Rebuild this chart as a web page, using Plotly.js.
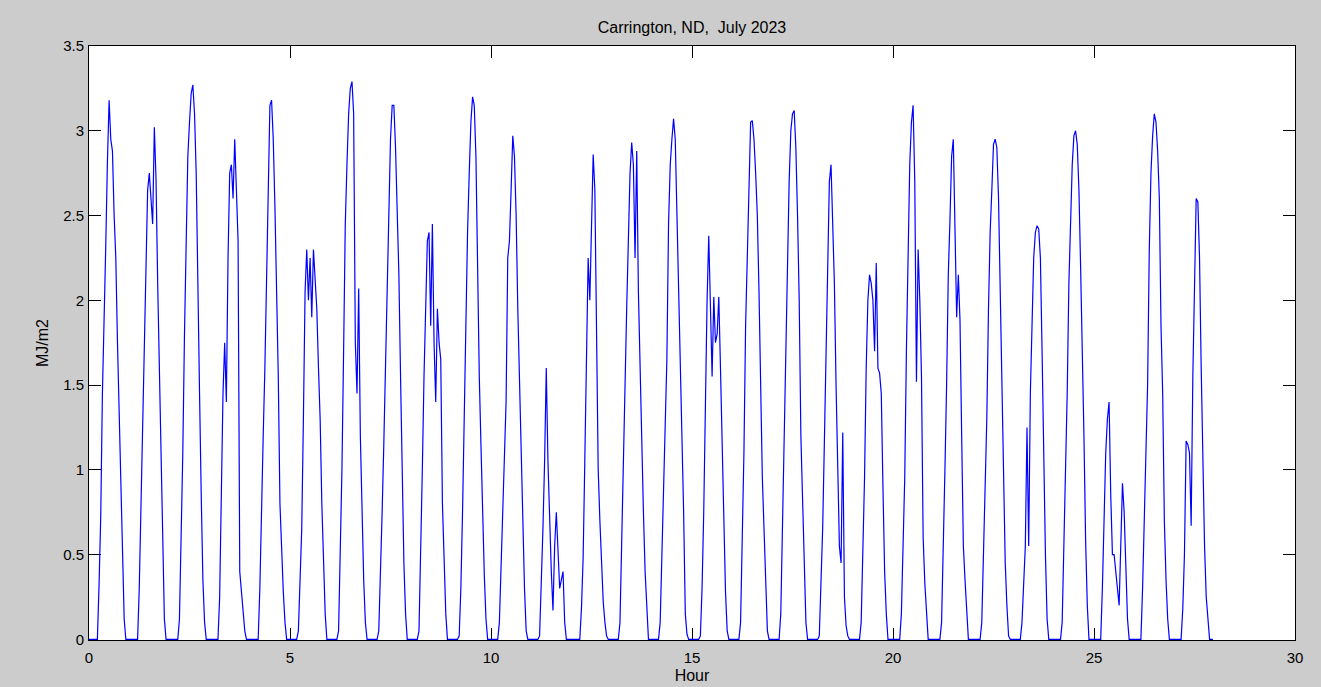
<!DOCTYPE html>
<html>
<head>
<meta charset="utf-8">
<script src="https://cdn.plot.ly/plotly-3.0.1.min.js"></script>
<style>
  html, body { margin: 0; padding: 0; background: #cccccc; }
  #chart { width: 1321px; height: 687px; }
</style>
</head>
<body>
<div id="chart"></div>
<script>
// Hourly solar radiation (MJ/m2), Carrington ND, July 2023 — one array per day, hours 0..23
const jul01 = [0,0,0,0,0,0,0.32,0.72,1.45,2.0,2.32,2.82,3.18,2.95,2.88,2.5,2.25,1.75,1.3,0.97,0.55,0.12,0,0];
const jul02 = [0,0,0,0,0,0,0.3,0.75,1.2,1.6,2.15,2.65,2.75,2.6,2.45,3.02,2.72,2.1,1.6,1.15,0.6,0.12,0,0];
const jul03 = [0,0,0,0,0,0,0.12,0.55,1.1,1.8,2.45,2.85,3.05,3.22,3.27,3.1,2.75,2.2,1.45,0.85,0.35,0.1,0,0];
const jul04 = [0,0,0,0,0,0,0.25,0.85,1.45,1.75,1.4,2.25,2.75,2.8,2.6,2.95,2.7,2.35,0.4,0.28,0.15,0.05,0,0];
const jul05 = [0,0,0,0,0,0,0.3,0.85,1.2,1.6,2.12,2.72,3.15,3.18,2.95,2.55,2.1,1.55,0.8,0.48,0.28,0.1,0,0];
const jul06 = [0,0,0,0,0,0.05,0.4,0.65,1.3,2.05,2.3,2.0,2.25,1.9,2.3,2.15,1.95,1.6,1.3,0.8,0.45,0.15,0,0];
const jul07 = [0,0,0,0,0,0.05,0.45,1.0,1.7,2.45,2.8,3.1,3.25,3.29,3.1,1.75,1.45,2.07,1.2,0.7,0.35,0.1,0,0];
const jul08 = [0,0,0,0,0,0.05,0.35,0.75,1.15,1.6,2.1,2.65,2.95,3.15,3.15,2.9,2.5,2.15,1.55,0.85,0.45,0.15,0,0];
const jul09 = [0,0,0,0,0,0.05,0.45,1.0,1.55,2.05,2.35,2.4,1.85,2.45,1.75,1.4,1.95,1.75,1.65,0.8,0.42,0.15,0,0];
const jul10 = [0,0,0,0,0,0.02,0.3,0.75,1.3,1.9,2.4,2.75,3.05,3.2,3.15,2.85,2.1,1.55,1.15,0.7,0.38,0.12,0,0];
const jul11 = [0,0,0,0,0,0.1,0.45,0.75,1.05,1.4,2.25,2.35,2.65,2.97,2.85,2.5,1.95,1.5,1.1,0.55,0.3,0.05,0,0];
const jul12 = [0,0,0,0,0,0.02,0.28,0.65,1.05,1.6,1.05,0.65,0.4,0.17,0.55,0.75,0.55,0.3,0.35,0.4,0.1,0,0,0];
const jul13 = [0,0,0,0,0,0,0.18,0.48,1.05,1.7,2.25,2.0,2.4,2.86,2.65,1.6,1.0,0.7,0.4,0.22,0.1,0.02,0,0];
const jul14 = [0,0,0,0,0,0.1,0.6,1.05,1.4,1.95,2.35,2.75,2.93,2.8,2.25,2.88,2.05,1.6,1.05,0.75,0.4,0.15,0,0];
const jul15 = [0,0,0,0,0,0.1,0.5,0.85,1.2,1.65,2.45,2.8,2.95,3.07,2.95,2.5,2.1,1.75,1.3,0.75,0.15,0.03,0,0];
const jul16 = [0,0,0,0,0,0.02,0.3,0.75,1.4,2.0,2.38,1.9,1.55,2.02,1.75,1.8,2.02,1.6,1.1,0.6,0.28,0.05,0,0];
const jul17 = [0,0,0,0,0,0.1,0.6,1.1,1.85,2.3,2.8,3.05,3.06,2.95,2.75,2.5,2.05,1.5,0.95,0.65,0.35,0.05,0,0];
const jul18 = [0,0,0,0,0,0.15,0.65,1.15,1.75,2.25,2.7,3.0,3.1,3.12,2.9,2.5,2.0,1.2,0.8,0.45,0.1,0,0,0];
const jul19 = [0,0,0,0,0.02,0.35,0.65,1.15,1.75,2.35,2.7,2.8,2.5,2.1,1.5,1.0,0.55,0.45,1.22,0.25,0.08,0.02,0,0];
const jul20 = [0,0,0,0,0,0.1,0.45,0.95,1.6,2.0,2.15,2.1,2.0,1.7,2.22,1.6,1.57,1.45,0.9,0.4,0.15,0,0,0];
const jul21 = [0,0,0,0,0,0.15,0.55,0.95,1.7,2.4,2.8,3.05,3.15,2.7,1.52,2.3,2.0,1.55,0.6,0.33,0.15,0,0,0];
const jul22 = [0,0,0,0,0,0.1,0.5,1.0,1.5,2.15,2.47,2.85,2.95,2.45,1.9,2.15,1.88,1.2,0.55,0.35,0.18,0,0,0];
const jul23 = [0,0,0,0,0,0.1,0.45,0.8,1.3,1.95,2.4,2.65,2.92,2.95,2.9,2.6,2.05,1.6,0.95,0.45,0.2,0.02,0,0];
const jul24 = [0,0,0,0,0,0.1,0.3,0.55,1.25,0.55,1.45,1.95,2.25,2.4,2.44,2.42,2.25,1.7,1.05,0.5,0.12,0,0,0];
const jul25 = [0,0,0,0,0,0.1,0.55,0.9,1.45,2.1,2.5,2.8,2.97,3.0,2.92,2.65,2.2,1.75,1.2,0.58,0.2,0,0,0];
const jul26 = [0,0,0,0,0,0.3,0.75,1.1,1.3,1.4,0.85,0.5,0.5,0.38,0.3,0.2,0.6,0.92,0.75,0.4,0.12,0,0,0];
const jul27 = [0,0,0,0,0,0.3,0.72,1.15,1.5,2.3,2.75,2.97,3.1,3.05,2.88,2.6,1.85,1.45,0.7,0.35,0.12,0,0,0];
const jul28 = [0,0,0,0,0,0.18,0.5,1.17,1.15,1.1,0.67,1.55,2.0,2.6,2.58,2.25,1.6,1.05,0.55,0.25,0.12,0,0,0];

const days = [jul01, jul02, jul03, jul04, jul05, jul06, jul07, jul08, jul09, jul10,
              jul11, jul12, jul13, jul14, jul15, jul16, jul17, jul18, jul19, jul20,
              jul21, jul22, jul23, jul24, jul25, jul26, jul27, jul28];

const xTicks = [0, 5, 10, 15, 20, 25, 30];
const yTicks = [0, 0.5, 1, 1.5, 2, 2.5, 3, 3.5];
const chartTitle = 'Carrington, ND,\u00a0 July 2023';
const xLabel = 'Hour';
const yLabel = 'MJ/m2';

const x = [], y = [];
days.forEach((vals, d) => {
  vals.forEach((v, h) => { x.push((d * 24 + h) / 24); y.push(v); });
});

const font = 'Liberation Sans, Arial, Helvetica, sans-serif';

const axisCommon = {
  showgrid: false,
  zeroline: false,
  ticks: 'inside',
  ticklen: 12,
  tickwidth: 1,
  tickcolor: '#000',
  showline: true,
  linecolor: '#000',
  linewidth: 1,
  mirror: 'ticks',
  layer: 'below traces',
  tickfont: { family: font, size: 15, color: '#000' },
  fixedrange: true
};

const trace = {
  x: x, y: y,
  type: 'scatter',
  mode: 'lines',
  line: { color: '#0000ff', width: 1.2 },
  hoverinfo: 'skip'
};

const layout = {
  width: 1321,
  height: 687,
  paper_bgcolor: '#cccccc',
  plot_bgcolor: '#ffffff',
  margin: { l: 89, r: 26, t: 46, b: 47, pad: 0 },
  showlegend: false,
  font: { family: font, color: '#000' },
  title: {
    text: chartTitle,
    font: { family: font, size: 16, color: '#000' },
    x: 0.5, xref: 'paper', xanchor: 'center',
    y: 1 - 27.5 / 687, yref: 'container', yanchor: 'middle'
  },
  xaxis: Object.assign({}, axisCommon, {
    range: [0, 30],
    tickvals: xTicks,
    ticktext: xTicks.map(String),
    ticklabelstandoff: 4,
    title: { text: xLabel, font: { family: font, size: 16, color: '#000' }, standoff: 4 },
    automargin: false
  }),
  yaxis: Object.assign({}, axisCommon, {
    range: [-0.004, 3.5],
    tickvals: yTicks,
    ticktext: yTicks.map(String),
    ticklabelstandoff: 1,
    title: { text: yLabel, font: { family: font, size: 16, color: '#000' }, standoff: 10 },
    automargin: false
  })
};

Plotly.newPlot('chart', [trace], layout, { displayModeBar: false, staticPlot: true });
</script>
</body>
</html>
